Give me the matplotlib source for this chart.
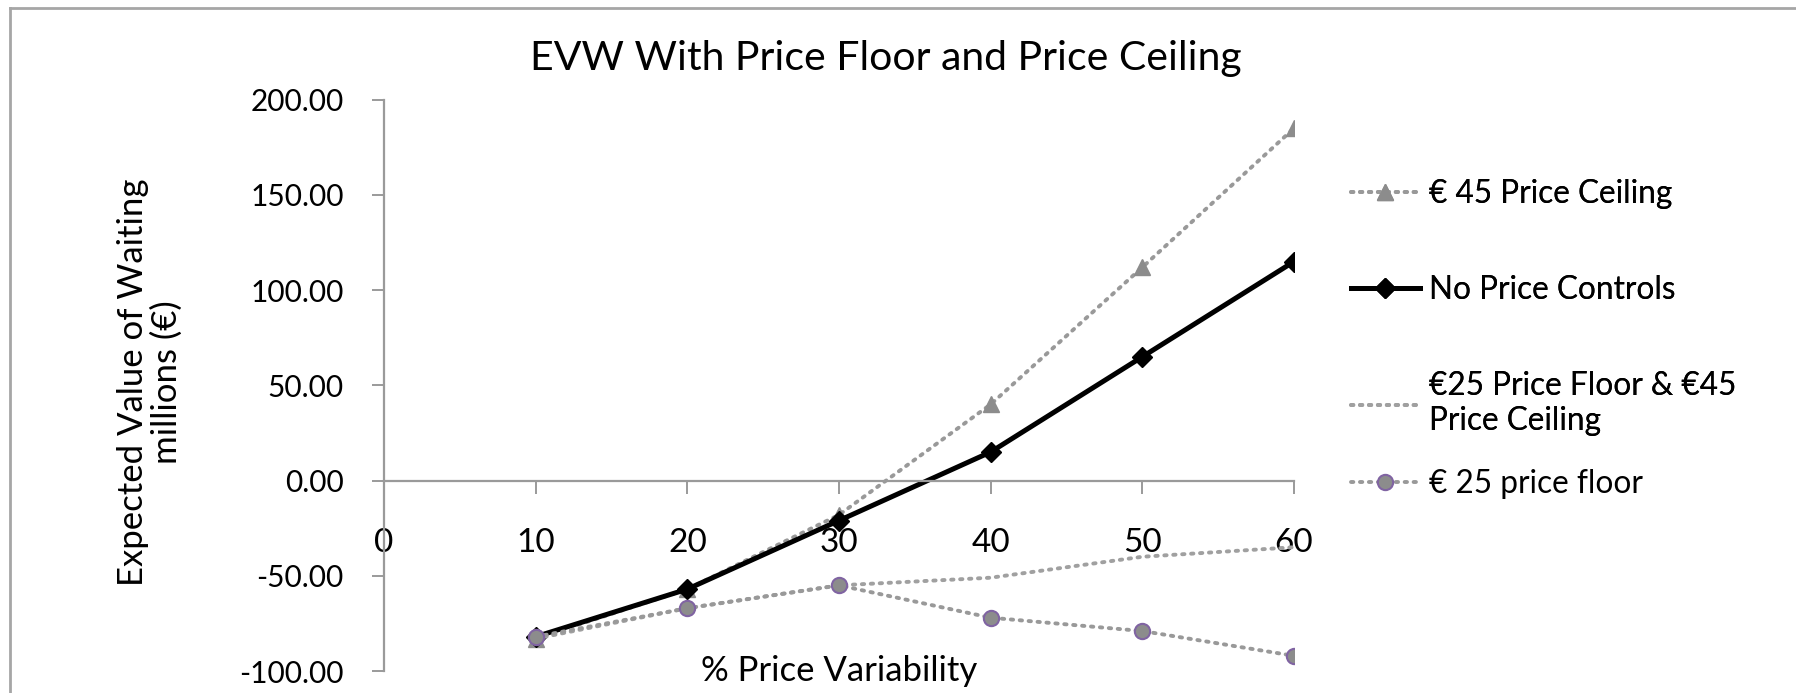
import matplotlib.pyplot as plt
from matplotlib.lines import Line2D
from matplotlib.ticker import FuncFormatter

plt.rcParams['font.family'] = ['Lato', 'DejaVu Sans']

# % price variability
variability = [10, 20, 30, 40, 50, 60]

# expected value of waiting, millions of euro
ceiling_45 = [-83, -57, -18, 40, 112, 185]
no_controls = [-82, -57, -21, 15, 65, 115]
floor_25_ceiling_45 = [-83, -67, -55, -51, -40, -35]
floor_25 = [-82, -67, -55, -72, -79, -92]

series_labels = [
    "€ 45 Price Ceiling",
    "No Price Controls",
    "€25 Price Floor & €45\nPrice Ceiling",
    "€ 25 price floor",
]

fig = plt.figure(figsize=(17.96, 6.93), dpi=100)
ax = fig.add_axes([0.2138, 0.0317, 0.5067, 0.8245])

dot = (0, (0.6, 1.7))
l1, = ax.plot(variability, ceiling_45, color="#999999", lw=2.8, ls=dot,
              dash_capstyle="round", marker="^", ms=12, mfc="#8c8c8c",
              mec="#8c8c8c", label=series_labels[0])
l2, = ax.plot(variability, no_controls, color="black", lw=3.6,
              marker="D", ms=10, mfc="black", mec="black",
              label=series_labels[1])
l3, = ax.plot(variability, floor_25_ceiling_45, color="#a0a0a0", lw=2.8,
              ls=dot, dash_capstyle="round", label=series_labels[2])
l4, = ax.plot(variability, floor_25, color="#999999", lw=2.8, ls=dot,
              dash_capstyle="round", marker="o", ms=11, mfc="#8c8c8c",
              mec="#8064a2", mew=1.5, label=series_labels[3])

ax.set_xlim(0, 60)
ax.set_ylim(-100, 200)
ax.set_xticks(range(0, 61, 10))
ax.set_yticks(range(-100, 201, 50))
ax.yaxis.set_major_formatter(FuncFormatter(lambda v, p: "{:.2f}".format(v)))

for side in ("top", "right"):
    ax.spines[side].set_visible(False)
ax.spines["bottom"].set_position(("data", 0))
for side in ("left", "bottom"):
    ax.spines[side].set_color("#9a9a9a")
    ax.spines[side].set_linewidth(1.6)

ax.tick_params(axis="both", direction="out", length=9, width=1.4, color="#9a9a9a")
ax.tick_params(axis="y", labelsize=21.5, pad=20)
ax.tick_params(axis="x", labelsize=24, pad=25)

ax.set_xlabel("% Price Variability", fontsize=25)
ax.xaxis.set_label_coords(0.5, 0.0)
ax.xaxis.label.set_va("center")

ax.set_ylabel("Expected Value of Waiting\nmillions (€)", fontsize=25,
              linespacing=1.05)
ax.yaxis.set_label_coords(-0.257, 0.505)
ax.yaxis.label.set_va("center")

fig.text(0.4933, 0.915, "EVW With Price Floor and Price Ceiling",
         fontsize=29.5, ha="center", va="center")

leg_kw = dict(frameon=False, fontsize=22.7, handlelength=2.2,
              handletextpad=0.3, borderpad=0, borderaxespad=0)
top_legend = fig.legend(handles=[l1, l2, l3], loc="upper left",
                        bbox_to_anchor=(0.752, 0.742), labelspacing=2.1,
                        **leg_kw)
fig.legend(handles=[l4], loc="center left", bbox_to_anchor=(0.752, 0.302),
           **leg_kw)
fig.add_artist(top_legend)

# chart frame
fig.add_artist(Line2D([10 / 1796, 1], [1 - 8 / 693, 1 - 8 / 693],
                      transform=fig.transFigure, color="#a6a6a6", lw=2))
fig.add_artist(Line2D([10 / 1796, 10 / 1796], [0, 1 - 8 / 693],
                      transform=fig.transFigure, color="#a6a6a6", lw=2))

fig.savefig("out.png", dpi=100)
